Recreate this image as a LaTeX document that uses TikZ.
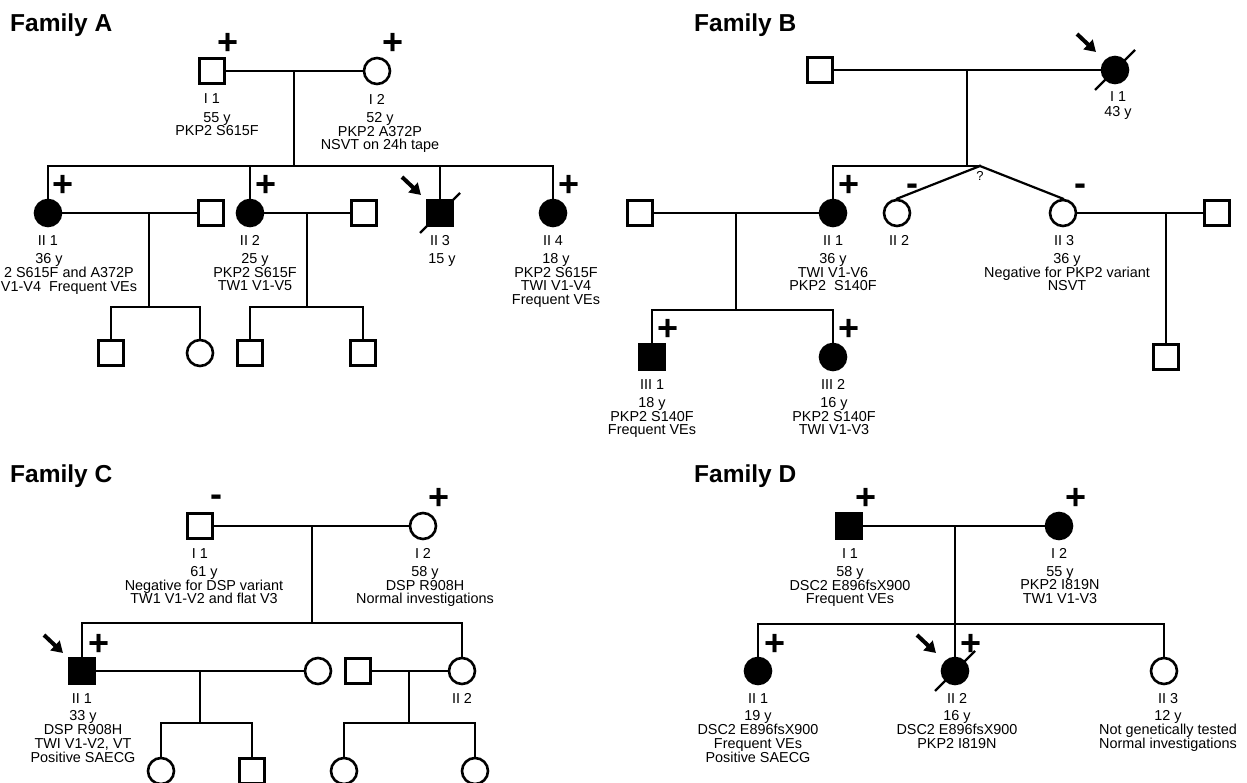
\documentclass[tikz,border=0pt]{standalone}
\usepackage{fontspec}
\setmainfont{Liberation Sans}
\newcommand\tightlines{\lineskiplimit=-30pt\relax\lineskip=0pt\relax}
\usetikzlibrary{arrows.meta,backgrounds,calc}
\begin{document}
\begin{tikzpicture}[x=1pt,y=-1pt,
  sq/.style={draw, line width=2.6pt, minimum size=24.6pt, inner sep=0pt, fill=white, rectangle},
  ci/.style={draw, line width=2.6pt, minimum size=26pt, inner sep=0pt, fill=white, circle},
  aff/.style={fill=black},
  con/.style={line width=2.2pt, line cap=rect},
  dead/.style={line width=2.4pt},
  prob/.style={line width=4pt, -{Triangle[length=11pt,width=13pt]}},
  sign/.style={font=\fontsize{36}{36}\selectfont\bfseries, inner sep=0pt},
  lab/.style={font=\fontsize{14.4}{13.8}\selectfont\tightlines, inner sep=0pt, align=center},
  info/.style={lab, anchor=north},
  qm/.style={font=\fontsize{13}{13}\selectfont, inner sep=0pt},
  ttl/.style={font=\fontsize{24.5}{24.5}\selectfont\bfseries, inner sep=0pt, anchor=base west}]
\useasboundingbox (0,0) rectangle (1247,782);

% ---------------- Family A ----------------
\node[ttl] (tA) at (10,31) {Family A};
\node[sq] (AI1) at (212,71) {};
\node[ci] (AI2) at (377,71) {};
\node[sign] (pAI1) at (228,44) {+};
\node[sign] (pAI2) at (393,44) {+};
\node[lab] (lAI1) at (212,99) {I 1};
\node[info] (iAI1) at (217,112) {55 y\\PKP2 S615F};
\node[lab] (lAI2) at (377,99) {I 2};
\node[info] (iAI2) at (380,112) {52 y\\PKP2 A372P\\NSVT on 24h tape};
\coordinate (Am) at (294,71);
\coordinate (Ab) at (294,166);

\node[ci,aff] (AII1) at (48,213) {};
\node[sq] (AII1s) at (211,213) {};
\node[ci,aff] (AII2) at (250,213) {};
\node[sq] (AII2s) at (364,213) {};
\node[sq,aff] (AII3) at (440,213) {};
\node[ci,aff] (AII4) at (553,213) {};
\node[sign] (pAII1) at (63,186) {+};
\node[sign] (pAII2) at (266,186) {+};
\node[sign] (pAII4) at (569,186) {+};
\draw[dead] ($(AII3)+(-20,20)$) -- ($(AII3)+(20,-20)$);
\coordinate (aAt) at ($(AII3)+(-38,-36)$);
\coordinate (aAh) at ($(AII3)+(-19,-18)$);
\draw[prob] (aAt) -- (aAh);

\node[lab] (lAII1) at (48,240.5) {II 1};
\node[info] (iAII1) at (49,253) {36 y};
\node[lab, anchor=base east] (iAII1b) at (134,277.4) {2 S615F and A372P};
\node[lab, anchor=base west] (iAII1c) at (0.8,291.2) {V1-V4 \ Frequent VEs};
\node[lab] (lAII2) at (250,240.5) {II 2};
\node[info] (iAII2) at (255,253) {25 y\\PKP2 S615F\\TW1 V1-V5};
\node[lab] (lAII3) at (440,240.5) {II 3};
\node[info] (iAII3) at (442,253) {15 y};
\node[lab] (lAII4) at (553,240.5) {II 4};
\node[info] (iAII4) at (556,253) {18 y\\PKP2 S615F\\TWI V1-V4\\Frequent VEs};

\coordinate (A1m) at (149,213);
\coordinate (A1b) at (149,307);
\coordinate (A2m) at (307,213);
\coordinate (A2b) at (307,307);
\node[sq] (AIII1) at (111,353) {};
\node[ci] (AIII2) at (200,353) {};
\node[sq] (AIII3) at (250,353) {};
\node[sq] (AIII4) at (363,353) {};

% ---------------- Family B ----------------
\node[ttl] (tB) at (694,31) {Family B};
\node[sq] (BI1) at (820,70) {};
\node[ci,aff] (BI2) at (1115,70) {};
\draw[dead] ($(BI2)+(-20,20)$) -- ($(BI2)+(20,-20)$);
\coordinate (aBt) at ($(BI2)+(-38,-36)$);
\coordinate (aBh) at ($(BI2)+(-19,-18)$);
\draw[prob] (aBt) -- (aBh);
\node[lab] (lBI2) at (1118,97) {I 1};
\node[info] (iBI2) at (1118,106.5) {43 y};
\coordinate (Bm) at (967,70);
\coordinate (Bb) at (967,166);
\coordinate (Bt) at (980,166);
\node[qm] (Bq) at (980,176) {?};

\node[ci,aff] (BII1) at (833,213) {};
\node[sq] (BII1s) at (640,213) {};
\node[ci] (BII2) at (897,213) {};
\node[ci] (BII3) at (1063,213) {};
\node[sq] (BII3s) at (1217,213) {};
\node[sign] (pBII1) at (849,186) {+};
\node[sign] (mBII2) at (912,190) {-};
\node[sign] (mBII3) at (1080,190) {-};
\node[lab] (lBII1) at (833,240.5) {II 1};
\node[info] (iBII1) at (833,253) {36 y\\TWI V1-V6\\PKP2 \ S140F};
\node[lab] (lBII2) at (899,240.5) {II 2};
\node[lab] (lBII3) at (1064,240.5) {II 3};
\node[info] (iBII3) at (1067,253) {36 y\\Negative for PKP2 variant\\NSVT};

\coordinate (B1m) at (736,213);
\coordinate (B1b) at (736,310);
\coordinate (B3m) at (1166,213);
\node[sq,aff] (BIII1) at (652,357) {};
\node[ci,aff] (BIII2) at (833,357) {};
\node[sq] (BIII3) at (1166,357) {};
\node[sign] (pBIII1) at (668,330) {+};
\node[sign] (pBIII2) at (849,330) {+};
\node[lab] (lBIII1) at (652,384.5) {III 1};
\node[info] (iBIII1) at (652,397) {18 y\\PKP2 S140F\\Frequent VEs};
\node[lab] (lBIII2) at (833,384.5) {III 2};
\node[info] (iBIII2) at (834,397) {16 y\\PKP2 S140F\\TWI V1-V3};

% ---------------- Family C ----------------
\node[ttl] (tC) at (10,482) {Family C};
\node[sq] (CI1) at (200,526) {};
\node[ci] (CI2) at (423,526) {};
\node[sign] (mCI1) at (216,501) {-};
\node[sign] (pCI2) at (439,499) {+};
\node[lab] (lCI1) at (200,553.5) {I 1};
\node[info] (iCI1) at (204,566) {61 y\\Negative for DSP variant\\TW1 V1-V2 and flat V3};
\node[lab] (lCI2) at (423,553.5) {I 2};
\node[info] (iCI2) at (425,566) {58 y\\DSP R908H\\Normal investigations};
\coordinate (Cm) at (312,526);
\coordinate (Cb) at (312,623);

\node[sq,aff] (CII1) at (82,671) {};
\node[ci] (CII1s) at (318,671) {};
\node[sq] (CII2s) at (358,671) {};
\node[ci] (CII2) at (462,671) {};
\node[sign] (pCII1) at (99,645) {+};
\coordinate (aCt) at ($(CII1)+(-38,-36)$);
\coordinate (aCh) at ($(CII1)+(-19,-18)$);
\draw[prob] (aCt) -- (aCh);
\node[lab] (lCII1) at (82,698.5) {II 1};
\node[info] (iCII1) at (83,710.5) {33 y\\DSP R908H\\TWI V1-V2, VT\\Positive SAECG};
\node[lab] (lCII2) at (462,698.5) {II 2};

\coordinate (C1m) at (200,671);
\coordinate (C1b) at (200,723);
\coordinate (C2m) at (409,671);
\coordinate (C2b) at (409,723);
\node[ci] (CIII1) at (161,771) {};
\node[sq] (CIII2) at (252,771) {};
\node[ci] (CIII3) at (344,771) {};
\node[ci] (CIII4) at (475,771) {};

% ---------------- Family D ----------------
\node[ttl] (tD) at (694,482) {Family D};
\node[sq,aff] (DI1) at (849,526) {};
\node[ci,aff] (DI2) at (1059,526) {};
\node[sign] (pDI1) at (866,499) {+};
\node[sign] (pDI2) at (1076,499) {+};
\node[lab] (lDI1) at (850,553.5) {I 1};
\node[info] (iDI1) at (850,566) {58 y\\DSC2 E896fsX900\\Frequent VEs};
\node[lab] (lDI2) at (1059,553.5) {I 2};
\node[info] (iDI2) at (1060,566) {55 y\\PKP2 I819N\\TW1 V1-V3};
\coordinate (Dm) at (955,526);
\coordinate (Db) at (955,624);

\node[ci,aff] (DII1) at (758,671) {};
\node[ci,aff] (DII2) at (955,671) {};
\node[ci] (DII3) at (1164,671) {};
\node[sign] (pDII1) at (775,645) {+};
\node[sign] (pDII2) at (971,645) {+};
\draw[dead] ($(DII2)+(-20,20)$) -- ($(DII2)+(20,-20)$);
\coordinate (aDt) at ($(DII2)+(-38,-36)$);
\coordinate (aDh) at ($(DII2)+(-19,-18)$);
\draw[prob] (aDt) -- (aDh);
\node[lab] (lDII1) at (758,698.5) {II 1};
\node[info] (iDII1) at (758,710.5) {19 y\\DSC2 E896fsX900\\Frequent VEs\\Positive SAECG};
\node[lab] (lDII2) at (957,698.5) {II 2};
\node[info] (iDII2) at (957,710.5) {16 y\\DSC2 E896fsX900\\PKP2 I819N};
\node[lab] (lDII3) at (1168,698.5) {II 3};
\node[info] (iDII3) at (1168,710.5) {12 y\\Not genetically tested\\Normal investigations};

% ---------------- connectors ----------------
\begin{scope}[on background layer]
\fill[white] (0,0) rectangle (1247,782);
% A
\draw[con] (AI1) -- (AI2);
\draw[con] (Am) -- (Ab);
\draw[con] (AII1) |- (Ab) -| (AII4);
\draw[con] (AII2) -- (AII2 |- Ab);
\draw[con] (AII3) -- (AII3 |- Ab);
\draw[con] (AII1) -- (AII1s);
\draw[con] (A1m) -- (A1b);
\draw[con] (AIII1) |- (A1b) -| (AIII2);
\draw[con] (AII2) -- (AII2s);
\draw[con] (A2m) -- (A2b);
\draw[con] (AIII3) |- (A2b) -| (AIII4);
% B
\draw[con] (BI1) -- (BI2);
\draw[con] (Bm) -- (Bb);
\draw[con] (BII1) |- (Bt);
\draw[con] (Bt) -- (BII2.north);
\draw[con] (Bt) -- (BII3.north);
\draw[con] (BII1s) -- (BII1);
\draw[con] (B1m) -- (B1b);
\draw[con] (BIII1) |- (B1b) -| (BIII2);
\draw[con] (BII3) -- (BII3s);
\draw[con] (B3m) -- (BIII3);
% C
\draw[con] (CI1) -- (CI2);
\draw[con] (Cm) -- (Cb);
\draw[con] (CII1) |- (Cb) -| (CII2);
\draw[con] (CII1) -- (CII1s);
\draw[con] (C1m) -- (C1b);
\draw[con] (CIII1) |- (C1b) -| (CIII2);
\draw[con] (CII2s) -- (CII2);
\draw[con] (C2m) -- (C2b);
\draw[con] (CIII3) |- (C2b) -| (CIII4);
% D
\draw[con] (DI1) -- (DI2);
\draw[con] (Dm) -- (DII2);
\draw[con] (DII1) |- (Db) -| (DII3);
\end{scope}
\end{tikzpicture}
\end{document}
